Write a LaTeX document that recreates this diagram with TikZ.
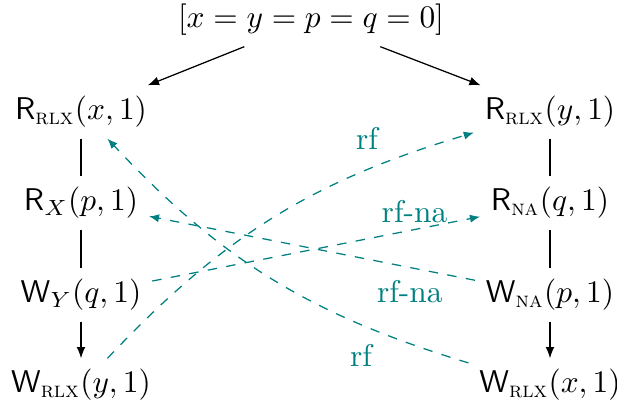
\documentclass[tikz,border=0pt]{standalone}
\usepackage{amsmath}
\usetikzlibrary{arrows.meta}
\newcommand{\tg}[1]{\text{\textsc{#1}}}
\begin{document}
\begin{tikzpicture}[x=0.3185pt,y=0.3185pt,
  ev/.style={inner sep=2pt, outer sep=1.5pt},
  po/.style={thin},
  poarr/.style={thin,-{Latex[length=3.6pt,width=2.8pt]}},
  rfarr/.style={teal,thin,dashed,-{Latex[length=3.2pt,width=2.6pt]}},
  lab/.style={teal,inner sep=2pt}]
\useasboundingbox (0,0) rectangle (617,-408);
\node[ev] (init) at (311,-20) {$[x=y=p=q=0]$};
\node[ev] (a1) at (81,-112) {$\mathsf{R}_{\tg{rlx}}(x,1)$};
\node[ev] (a2) at (81,-203) {$\mathsf{R}_{X}(p,1)$};
\node[ev] (a3) at (81,-295) {$\mathsf{W}_{Y}(q,1)$};
\node[ev] (a4) at (81,-385) {$\mathsf{W}_{\tg{rlx}}(y,1)$};
\node[ev] (b1) at (550,-112) {$\mathsf{R}_{\tg{rlx}}(y,1)$};
\node[ev] (b2) at (550,-203) {$\mathsf{R}_{\tg{na}}(q,1)$};
\node[ev] (b3) at (550,-295) {$\mathsf{W}_{\tg{na}}(p,1)$};
\node[ev] (b4) at (550,-385) {$\mathsf{W}_{\tg{rlx}}(x,1)$};
\draw[poarr] (init) -- (a1);
\draw[poarr] (init) -- (b1);
\draw[po] (a1) -- (a2);
\draw[po] (a2) -- (a3);
\draw[poarr] (a3) -- (a4);
\draw[po] (b1) -- (b2);
\draw[po] (b2) -- (b3);
\draw[poarr] (b3) -- (b4);
\draw[rfarr] (a4) to[bend left=15] node[lab,pos=0.8,above left,yshift=2pt] {rf} (b1);
\draw[rfarr] (a3) -- node[lab,pos=0.8,above] {rf-na} (b2);
\draw[rfarr] (b3) -- node[lab,pos=0.2,below,yshift=-2pt] {rf-na} (a2);
\draw[rfarr] (b4) to[bend left=15] node[lab,pos=0.25,below,yshift=-4pt] {rf} (a1);
\end{tikzpicture}
\end{document}
